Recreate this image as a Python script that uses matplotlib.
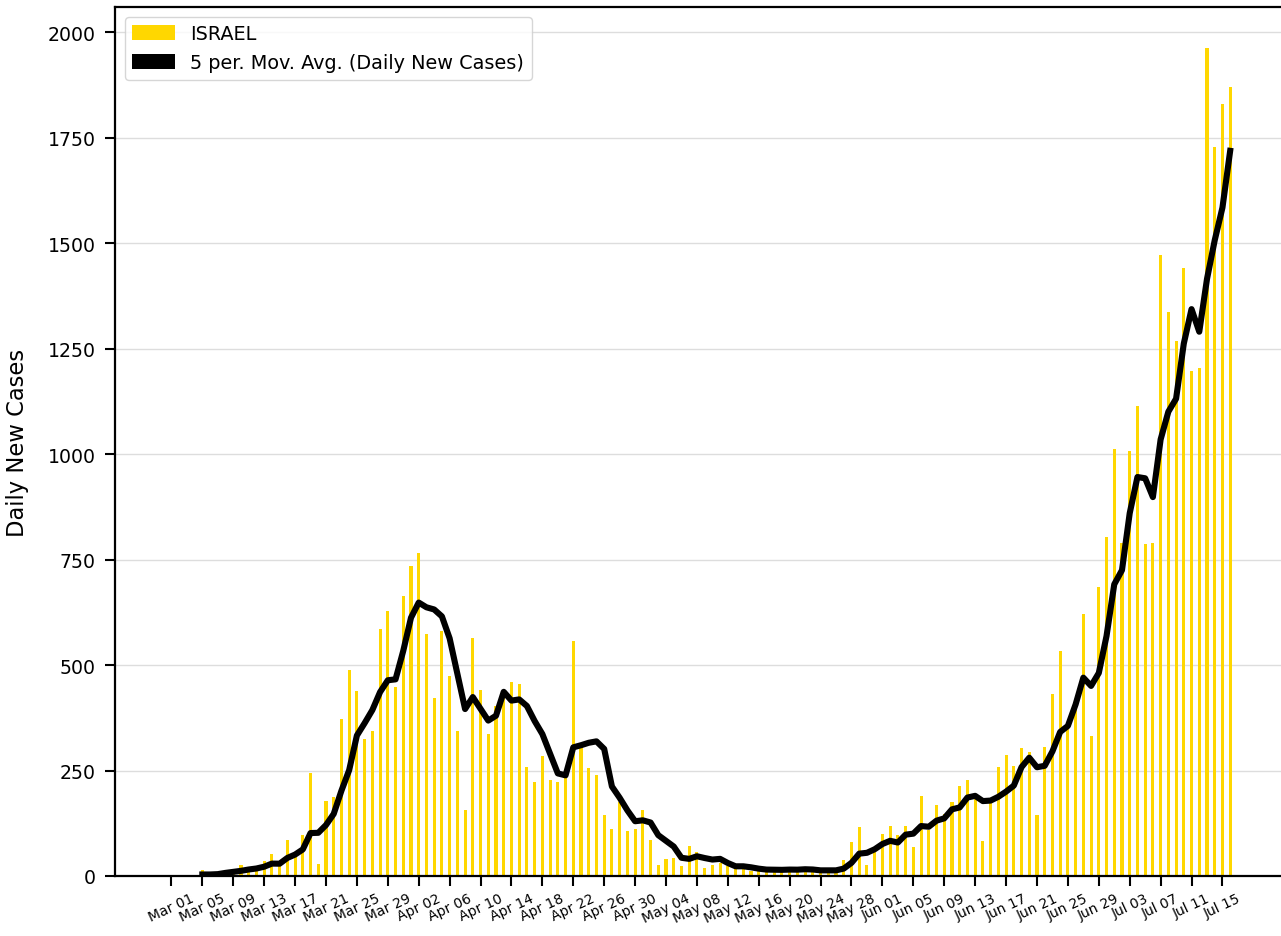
import pandas as pd
import matplotlib
matplotlib.use('Agg')
import matplotlib.pyplot as plt
import matplotlib.dates as mdates
from matplotlib.patches import Patch

# Daily new cases, Israel, Mar 01 - Jul 16 2020
mar_cases = [2, 0, 0, 2, 14, 2, 4, 15, 14, 26, 18, 16, 36, 51, 25, 86, 56, 97, 245, 28,
             178, 188, 372, 489, 438, 325, 343, 585, 629, 449, 663]
apr_cases = [735, 765, 573, 423, 581, 475, 344, 156, 565, 441, 336, 402, 439, 461, 455,
             258, 224, 284, 227, 223, 235, 556, 309, 256, 240, 145, 111, 175, 107, 111]
may_cases = [156, 85, 25, 40, 43, 23, 72, 56, 19, 25, 31, 23, 17, 19, 13, 15, 12, 15,
             18, 16, 14, 17, 12, 8, 16, 14, 38, 80, 117, 26, 56]
jun_cases = [100, 118, 97, 119, 68, 190, 110, 169, 146, 175, 213, 227, 189, 84, 181,
             258, 288, 260, 303, 293, 145, 305, 431, 533, 365, 400, 622, 333, 686, 803]
jul_cases = [1013, 790, 1008, 1115, 788, 790, 1473, 1337, 1269, 1442, 1198, 1205,
             1962, 1728, 1829, 1871]

country = 'ISRAEL'
start_date = '2020-03-01'
window = 5

daily = mar_cases + apr_cases + may_cases + jun_cases + jul_cases
dates = pd.date_range(start_date, periods=len(daily), freq='D')
df = pd.DataFrame({'cases': daily}, index=dates)
df['ma'] = df['cases'].rolling(window).mean()

fig = plt.figure(figsize=(12.81, 9.37), dpi=100)
# axes runs a bit past the right edge (the original was cropped there)
ax = fig.add_axes([115 / 1281, 60 / 937, 1177 / 1281, 869 / 937])

ax.bar(df.index, df['cases'], width=0.4, color='gold', zorder=2)
ax.plot(df.index, df['ma'], color='black', lw=4.4, zorder=3)

# x axis: ticks every 4 days
start = mdates.date2num(pd.Timestamp(start_date))
ax.set_xlim(start - 7.3, start + 145.0)
ax.set_xticks(pd.date_range(start_date, '2020-07-15', freq='4D'))
ax.xaxis.set_major_formatter(mdates.DateFormatter('%b %d'))
plt.setp(ax.get_xticklabels(), rotation=25, ha='center', fontsize=10)

ax.set_ylim(0, 2060)
ax.set_yticks(range(0, 2001, 250))
ax.tick_params(axis='y', labelsize=13.6, pad=7)
ax.tick_params(length=7, width=1.5)
ax.set_ylabel('Daily New Cases', fontsize=16.3, labelpad=13)

ax.yaxis.grid(True, color='#dddddd', lw=1)
ax.set_axisbelow(True)
for s in ax.spines.values():
    s.set_linewidth(1.6)

handles = [Patch(facecolor='gold'), Patch(facecolor='black')]
labels = [country, f'{window} per. Mov. Avg. (Daily New Cases)']
ax.legend(handles, labels, loc='upper left', fontsize=13.9, handlelength=2.2, handleheight=0.8)

plt.savefig('out.png', dpi=100)
plt.close()
